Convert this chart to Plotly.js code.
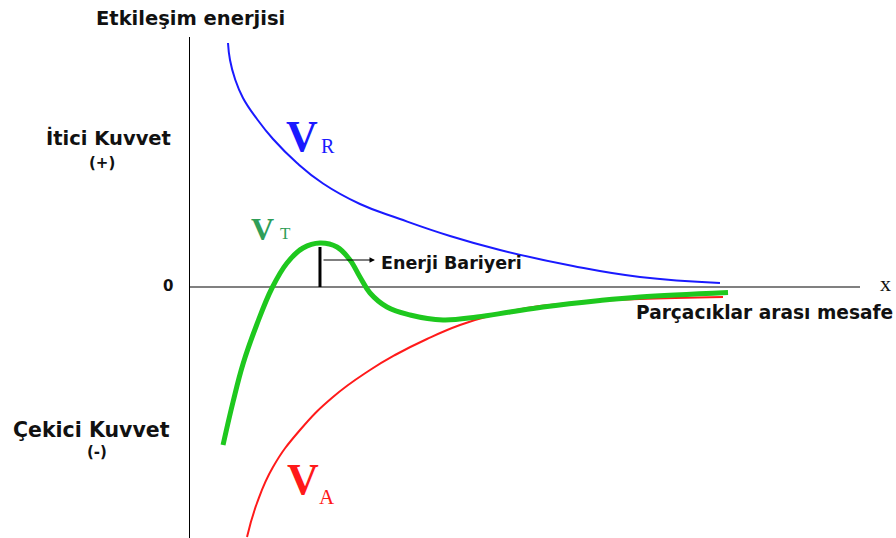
<!DOCTYPE html>
<html>
<head>
<meta charset="utf-8">
<script src="https://cdn.plot.ly/plotly-3.0.1.min.js"></script>
<style>html,body{margin:0;padding:0;background:#fff;}#chart{width:896px;height:538px;}</style>
</head>
<body>
<div id="chart"></div>
<script>
// Repulsive energy V_R
const xR = [0.567, 0.597, 0.672, 0.791, 1.0, 1.239, 1.597, 1.985, 2.537, 3.134, 3.881, 4.627, 5.716, 6.716, 7.91];
const yR = [4.88, 4.54, 4.16, 3.78, 3.36, 2.96, 2.48, 2.07, 1.66, 1.36, 1.02, 0.74, 0.42, 0.20, 0.08];
// Attractive energy V_A
const xA = [0.851, 1.0, 1.239, 1.642, 2.134, 2.687, 3.06, 3.537, 4.03, 4.522, 5.03, 5.522, 6.119, 6.716, 7.955];
const yA = [-5.0, -4.32, -3.60, -2.86, -2.20, -1.66, -1.36, -1.04, -0.76, -0.56, -0.42, -0.34, -0.28, -0.24, -0.20];
// Total energy V_T
const xT = [0.493, 0.642, 0.791, 1.0, 1.224, 1.448, 1.687, 1.94, 2.194, 2.388, 2.537, 2.687, 2.94, 3.284, 3.776, 4.284, 4.776, 5.269, 6.119, 6.716, 8.03];
const yT = [-3.16, -2.30, -1.54, -0.74, -0.02, 0.48, 0.78, 0.88, 0.80, 0.54, 0.20, -0.12, -0.40, -0.56, -0.66, -0.60, -0.50, -0.40, -0.27, -0.20, -0.11];
// Energy barrier marker
const barrierX = [1.94, 1.94];
const barrierY = [0, 0.8];
const arrowFrom = [1.97, 0.54];
const arrowTo = [2.76, 0.54];

// Labels
const titleText = "Etkileşim enerjisi";
const posLabel = "İtici Kuvvet";
const posSign = "(+)";
const negLabel = "Çekici Kuvvet";
const negSign = "(-)";
const zeroLabel = "0";
const xAxisLetter = "x";
const xAxisLabel = "Parçacıklar arası mesafe";
const barrierLabel = "Enerji Bariyeri";

const W = 896, H = 538, L = 190, R = 36, T = 37, B = 0;
function px(x){ return (x - L) / (W - L - R); }
function py(y){ return (H - B - y) / (H - T - B); }

const sans = "DejaVu Sans, Verdana, sans-serif";
const serif = "Liberation Serif, Times New Roman, serif";

function ann(text, x, y, size, color, family, extra){
  return Object.assign({text: text, x: px(x), y: py(y), xref: "paper", yref: "paper",
    showarrow: false, xanchor: "center", yanchor: "middle",
    font: {size: size, color: color, family: family}}, extra || {});
}

const traces = [
  {x: xR, y: yR, mode: "lines", line: {color: "#1a1aff", width: 2, shape: "spline", smoothing: 1.3}, hoverinfo: "skip"},
  {x: xA, y: yA, mode: "lines", line: {color: "#ff1a1a", width: 2, shape: "spline", smoothing: 1.3}, hoverinfo: "skip"},
  {x: xT, y: yT, mode: "lines", line: {color: "#1ec81e", width: 5, shape: "spline", smoothing: 1.1}, hoverinfo: "skip"},
  {x: barrierX, y: barrierY, mode: "lines", line: {color: "#000", width: 3}, hoverinfo: "skip"}
];

const annotations = [
  ann("<b>" + titleText + "</b>", 190, 18, 19.5, "#111", sans),
  ann("<b>" + posLabel + "</b>", 108, 138, 19.5, "#111", sans),
  ann("<b>" + posSign + "</b>", 102, 163, 15, "#111", sans),
  ann("<b>" + negLabel + "</b>", 92, 430, 20.5, "#111", sans),
  ann("<b>" + negSign + "</b>", 97, 452, 15, "#111", sans),
  ann("<b>" + zeroLabel + "</b>", 168, 286, 15, "#111", sans),
  ann(xAxisLetter, 885, 283, 22, "#111", serif),
  ann("<b>" + xAxisLabel + "</b>", 634, 312, 18.6, "#111", sans, {xanchor: "left"}),
  ann("<b>" + barrierLabel + "</b>", 379, 263, 17.5, "#111", sans, {xanchor: "left"}),
  ann("<b>V</b>", 302, 136, 44, "#1a1aff", serif),
  ann("R", 328, 146, 20, "#1a1aff", serif),
  ann("<b>V</b>", 262, 229, 32, "#2f9e58", serif),
  ann("T", 285, 233, 17, "#2f9e58", serif),
  ann("<b>V</b>", 303, 479, 44, "#ff1a1a", serif),
  ann("A", 327, 497, 21, "#ff1a1a", serif),
  {x: arrowTo[0], y: arrowTo[1], ax: arrowFrom[0], ay: arrowFrom[1], xref: "x", yref: "y", axref: "x", ayref: "y",
   text: "", showarrow: true, arrowhead: 2, arrowsize: 0.9, arrowwidth: 1.2, arrowcolor: "#000"}
];

const layout = {
  width: W, height: H,
  margin: {l: L, r: R, t: T, b: B, pad: 0},
  paper_bgcolor: "#fff", plot_bgcolor: "#fff",
  showlegend: false,
  xaxis: {range: [0, 10], showgrid: false, zeroline: false, showline: false, showticklabels: false, ticks: "", fixedrange: true},
  yaxis: {range: [-5.02, 5], showgrid: false, zeroline: true, zerolinecolor: "#808080", zerolinewidth: 2,
          showline: true, linecolor: "#000", linewidth: 1.5, showticklabels: false, ticks: "", fixedrange: true},
  annotations: annotations
};

Plotly.newPlot("chart", traces, layout, {displayModeBar: false, staticPlot: true});
</script>
</body>
</html>
